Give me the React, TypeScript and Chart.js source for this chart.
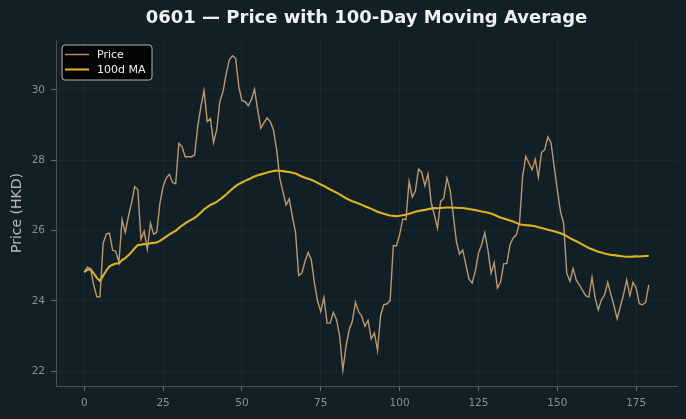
import { useEffect, useRef } from "react";
import { Chart, registerables } from "chart.js";

Chart.register(...registerables);

// Daily closing prices (HKD), trading days 0..179
const price: number[] = [
  24.82, 24.96, 24.92, 24.45, 24.12, 24.12, 25.64, 25.9, 25.93, 25.44,
  25.41, 25.1, 26.31, 25.95, 26.4, 26.78, 27.25, 27.16, 25.76, 25.98,
  25.47, 26.21, 25.9, 25.95, 26.78, 27.25, 27.49, 27.6, 27.37, 27.33,
  28.48, 28.39, 28.1, 28.1, 28.1, 28.15, 28.96, 29.53, 29.98, 29.1,
  29.18, 28.5, 28.86, 29.67, 29.95, 30.45, 30.85, 30.97, 30.9, 30.1,
  29.69, 29.67, 29.55, 29.72, 30.02, 29.43, 28.91, 29.07, 29.2, 29.1,
  28.86, 28.3, 27.49, 27.11, 26.73, 26.9, 26.4, 25.95, 24.72, 24.79,
  25.12, 25.38, 25.17, 24.51, 23.99, 23.7, 24.1, 23.37, 23.37, 23.68,
  23.47, 22.99, 22.03, 22.71, 23.18, 23.42, 23.96, 23.7, 23.56, 23.28,
  23.45, 22.92, 23.09, 22.59, 23.61, 23.89, 23.92, 24.01, 25.57, 25.57,
  25.88, 26.33, 26.31, 27.4, 26.95, 27.13, 27.75, 27.66, 27.28, 27.61,
  26.8, 26.45, 26.07, 26.83, 26.92, 27.49, 27.16, 26.45, 25.69, 25.33,
  25.45, 25.03, 24.62, 24.51, 24.84, 25.36, 25.6, 25.94, 25.45, 24.79,
  25.09, 24.37, 24.53, 25.06, 25.06, 25.6, 25.79, 25.88, 26.21, 27.54,
  28.11, 27.92, 27.73, 28.03, 27.52, 28.22, 28.3, 28.66, 28.5, 27.82,
  27.16, 26.54, 26.21, 24.79, 24.56, 24.92, 24.6, 24.46, 24.3, 24.15,
  24.11, 24.68, 24.08, 23.75, 24.03, 24.18, 24.53, 24.18, 23.85, 23.49,
  23.85, 24.18, 24.6, 24.15, 24.53, 24.37, 23.92, 23.89, 23.96, 24.46,
];

// Trading-day index for each close
const days: number[] = price.map((_, i) => i);

const xTicks: number[] = [0, 25, 50, 75, 100, 125, 150, 175];
const yTicks: number[] = [22, 24, 26, 28, 30];

const MA_WINDOW = 100;

const TITLE = "0601 \u2014 Price with 100-Day Moving Average";
const Y_LABEL = "Price (HKD)";
const PRICE_LABEL = "Price";
const MA_LABEL = "100d MA";

// Trailing mean over up to MA_WINDOW closes (shorter window at the start)
const movingAvg: number[] = price.map((_, i) => {
  const start = Math.max(0, i - MA_WINDOW + 1);
  const win = price.slice(start, i + 1);
  return win.reduce((a, b) => a + b, 0) / win.length;
});

const BG = "#111f26";
const PRICE_COLOR = "rgba(207,162,112,0.92)";
const MA_COLOR = "#dcb31d";
const GRID = "rgba(255,255,255,0.045)";
const FONT = "'DejaVu Sans', Verdana, sans-serif";

// 5% padding around the data on both axes
const xMin = days[0] - 0.05 * (days[days.length - 1] - days[0]);
const xMax = days[days.length - 1] + 0.05 * (days[days.length - 1] - days[0]);
const lo = Math.min(...price, ...movingAvg);
const hi = Math.max(...price, ...movingAvg);
const yMin = lo - 0.05 * (hi - lo);
const yMax = hi + 0.05 * (hi - lo);

const backgroundPlugin = {
  id: "bgFill",
  beforeDraw(chart: any) {
    const { ctx, width, height } = chart;
    ctx.save();
    ctx.fillStyle = BG;
    ctx.fillRect(0, 0, width, height);
    ctx.restore();
  },
};

// Boxed legend in the upper-left corner of the plot
const legendBoxPlugin = {
  id: "legendBox",
  afterDraw(chart: any) {
    const { ctx, chartArea } = chart;
    const x = chartArea.left + 6;
    const y = chartArea.top + 5;
    const w = 90;
    const h = 35;
    const r = 3;
    ctx.save();
    ctx.beginPath();
    ctx.moveTo(x + r, y);
    ctx.lineTo(x + w - r, y);
    ctx.arcTo(x + w, y, x + w, y + r, r);
    ctx.lineTo(x + w, y + h - r);
    ctx.arcTo(x + w, y + h, x + w - r, y + h, r);
    ctx.lineTo(x + r, y + h);
    ctx.arcTo(x, y + h, x, y + h - r, r);
    ctx.lineTo(x, y + r);
    ctx.arcTo(x, y, x + r, y, r);
    ctx.closePath();
    ctx.fillStyle = "rgba(0,0,0,0.85)";
    ctx.fill();
    ctx.strokeStyle = "#b5b5b5";
    ctx.lineWidth = 1;
    ctx.stroke();

    ctx.font = `11px ${FONT}`;
    ctx.textBaseline = "middle";
    ctx.textAlign = "left";
    chart.data.datasets.forEach((ds: any, k: number) => {
      const ly = y + 9.5 + k * 15;
      ctx.beginPath();
      ctx.moveTo(x + 3, ly);
      ctx.lineTo(x + 27, ly);
      ctx.strokeStyle = ds.borderColor;
      ctx.lineWidth = ds.borderWidth;
      ctx.stroke();
      ctx.fillStyle = "#f2f2f2";
      ctx.fillText(ds.label, x + 35, ly + 0.5);
    });
    ctx.restore();
  },
};

export default function App() {
  const canvasRef = useRef<HTMLCanvasElement | null>(null);

  useEffect(() => {
    document.body.style.margin = "0";
    document.body.style.background = BG;
    const canvas = canvasRef.current;
    if (!canvas) return;

    const chart = new Chart(canvas, {
      type: "line",
      data: {
        datasets: [
          {
            label: PRICE_LABEL,
            data: days.map((d, i) => ({ x: d, y: price[i] })),
            borderColor: PRICE_COLOR,
            borderWidth: 1.4,
            pointRadius: 0,
            tension: 0,
            fill: false,
          },
          {
            label: MA_LABEL,
            data: days.map((d, i) => ({ x: d, y: movingAvg[i] })),
            borderColor: MA_COLOR,
            borderWidth: 2.1,
            pointRadius: 0,
            tension: 0,
            fill: false,
          },
        ],
      },
      options: {
        responsive: false,
        animation: false,
        events: [],
        layout: { padding: { left: 0, right: 9, top: 0, bottom: 0 } },
        plugins: {
          legend: { display: false },
          tooltip: { enabled: false },
          title: {
            display: true,
            text: TITLE,
            fullSize: false,
            color: "#f0f0f0",
            font: { family: FONT, size: 18, weight: "bold", lineHeight: 1.2 },
            padding: { top: 7.2, bottom: 11.2 },
          },
        },
        scales: {
          x: {
            type: "linear",
            min: xMin,
            max: xMax,
            afterBuildTicks: (scale: any) => {
              scale.ticks = xTicks.map((v) => ({ value: v }));
            },
            afterFit: (scale: any) => {
              scale.height = 33;
            },
            grid: {
              color: GRID,
              tickColor: "#6b6b6b",
              tickLength: 5,
              lineWidth: 1,
            },
            border: { display: true, color: "#4f4f4f", width: 1 },
            ticks: {
              color: "#8f8f8f",
              font: { family: FONT, size: 10.5 },
              padding: 6,
              maxRotation: 0,
              callback: (v: any) => String(v),
            },
          },
          y: {
            type: "linear",
            min: yMin,
            max: yMax,
            afterBuildTicks: (scale: any) => {
              scale.ticks = yTicks.map((v) => ({ value: v }));
            },
            afterFit: (scale: any) => {
              scale.width = 56;
            },
            grid: {
              color: GRID,
              tickColor: "#6b6b6b",
              tickLength: 5,
              lineWidth: 1,
            },
            border: { display: true, color: "#4f4f4f", width: 1 },
            ticks: {
              color: "#8f8f8f",
              font: { family: FONT, size: 10.5 },
              padding: 6,
              callback: (v: any) => String(v),
            },
            title: {
              display: true,
              text: Y_LABEL,
              color: "#b8b8b8",
              font: { family: FONT, size: 14 },
              padding: { top: 8.6, bottom: 0 },
            },
          },
        },
      },
      plugins: [backgroundPlugin, legendBoxPlugin],
    });

    return () => chart.destroy();
  }, []);

  return (
    <div style={{ width: 686, height: 419, background: BG }}>
      <canvas ref={canvasRef} width={686} height={419} style={{ display: "block" }} />
    </div>
  );
}
